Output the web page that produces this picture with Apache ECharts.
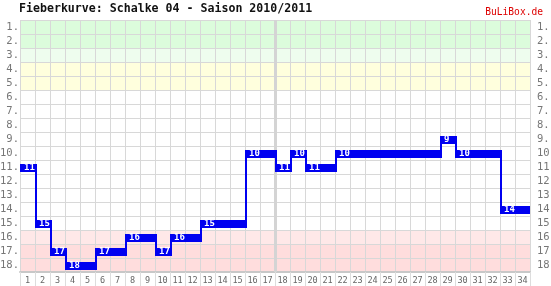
<!DOCTYPE html>
<html>
<head>
<meta charset="utf-8">
<script src="https://cdn.jsdelivr.net/npm/echarts@6/dist/echarts.min.js"></script>
<style>html,body{margin:0;padding:0;background:#fff;}#c{width:551px;height:286px;}</style>
</head>
<body>
<div id="c"></div>
<script>
var titleText = 'Fieberkurve: Schalke 04 - Saison 2010/2011';
var brandText = 'BuLiBox.de';
var rounds = ['1','2','3','4','5','6','7','8','9','10','11','12','13','14','15','16','17','18','19','20','21','22','23','24','25','26','27','28','29','30','31','32','33','34'];
var rankLabels = ['1.','2.','3.','4.','5.','6.','7.','8.','9.','10.','11.','12.','13.','14.','15.','16.','17.','18.'];
var ranks = [11,15,17,18,18,17,17,16,16,17,16,16,15,15,15,10,10,11,10,11,11,10,10,10,10,10,10,10,9,10,10,10,14,14];
var bandColors = ['#dcfcdc','#dcfcdc','#eefdee','#ffffdd','#ffffdd','#ffffff','#ffffff','#ffffff','#ffffff','#ffffff','#ffffff','#ffffff','#ffffff','#ffffff','#ffffff','#ffe8e8','#ffdddd','#ffdddd'];
var halfSeasonAfter = 16; // index of round 17

var mono = 'DejaVu Sans Mono';
var chart = echarts.init(document.getElementById('c'), null, {renderer: 'canvas'});

var data = ranks.map(function (r, i) { return [i, r - 1]; });

chart.setOption({
  animation: false,
  backgroundColor: '#ffffff',
  title: [
    {text: titleText, left: 19, top: 1, padding: 0, textStyle: {fontFamily: mono, fontSize: 11.6, fontWeight: 'bold', color: '#111', lineHeight: 16}},
    {text: brandText, right: 8, top: 6, padding: 0, textStyle: {fontFamily: mono, fontSize: 9.6, fontWeight: 'normal', color: '#dd0000', lineHeight: 12}}
  ],
  grid: {left: 20, right: 21, top: 20, bottom: 14, containLabel: false, outerBoundsMode: 'none'},
  xAxis: {
    type: 'category', data: rounds, boundaryGap: true,
    axisLine: {show: true, lineStyle: {color: '#c8c8c8', width: 2}},
    axisTick: {show: true, length: 14, lineStyle: {color: '#dddddd', width: 1}},
    axisLabel: {fontFamily: mono, fontSize: 8.5, color: '#666', margin: 4, interval: 0},
    splitLine: {show: true, lineStyle: {color: '#d8d8d8', width: 1}}
  },
  yAxis: [
    {
      type: 'category', data: rankLabels, inverse: true, boundaryGap: true, position: 'left',
      axisLine: {show: false}, axisTick: {show: false},
      axisLabel: {fontFamily: mono, fontSize: 10.5, color: '#777', margin: 1, interval: 0, padding: [3, 0, 0, 0]},
      splitLine: {show: true, lineStyle: {color: '#d8d8d8', width: 1}},
      splitArea: {show: true, areaStyle: {color: bandColors}}
    },
    {
      type: 'category', data: rankLabels, inverse: true, boundaryGap: true, position: 'right',
      axisLine: {show: false}, axisTick: {show: false},
      axisLabel: {fontFamily: mono, fontSize: 10.5, color: '#777', margin: 7, interval: 0, padding: [3, 0, 0, 0]},
      splitLine: {show: false}, splitArea: {show: false}
    }
  ],
  series: [
    {
      type: 'custom', z: 1, silent: true,
      data: [[halfSeasonAfter, 0]],
      renderItem: function (params, api) {
        var p = api.coord([api.value(0), 0]);
        var w = api.size([1, 1])[0];
        var cs = params.coordSys;
        var x = p[0] + w / 2 + 0.5;
        return {type: 'line', shape: {x1: x, y1: cs.y, x2: x, y2: cs.y + cs.height}, style: {stroke: '#d4d4d4', lineWidth: 3}};
      }
    },
    {
      type: 'custom', z: 5, silent: true,
      data: data,
      renderItem: function (params, api) {
        var i = api.value(0), r = api.value(1);
        var p = api.coord([i, r]);
        var sz = api.size([1, 1]);
        var w = sz[0];
        var x0 = p[0] - w / 2;
        var children = [{type: 'rect', shape: {x: x0, y: p[1] - 3, width: w, height: 8}, style: {fill: '#0000f0'}}];
        if (i > 0) {
          var pr = ranks[i - 1] - 1;
          if (pr !== r) {
            var q = api.coord([i - 1, pr]);
            var yA = Math.min(q[1], p[1]) - 3, yB = Math.max(q[1], p[1]) + 5;
            children.push({type: 'rect', shape: {x: x0, y: yA, width: 2, height: yB - yA}, style: {fill: '#0000f0'}});
          }
        }
        if (i === 0 || ranks[i - 1] - 1 !== r) {
          children.push({type: 'text', style: {text: String(r + 1), x: x0 + 4, y: p[1] + 1, verticalAlign: 'middle', align: 'left', fill: '#ffffff', font: 'bold 9px "DejaVu Sans Mono"'}});
        }
        return {type: 'group', children: children};
      }
    }
  ]
});
</script>
</body>
</html>
